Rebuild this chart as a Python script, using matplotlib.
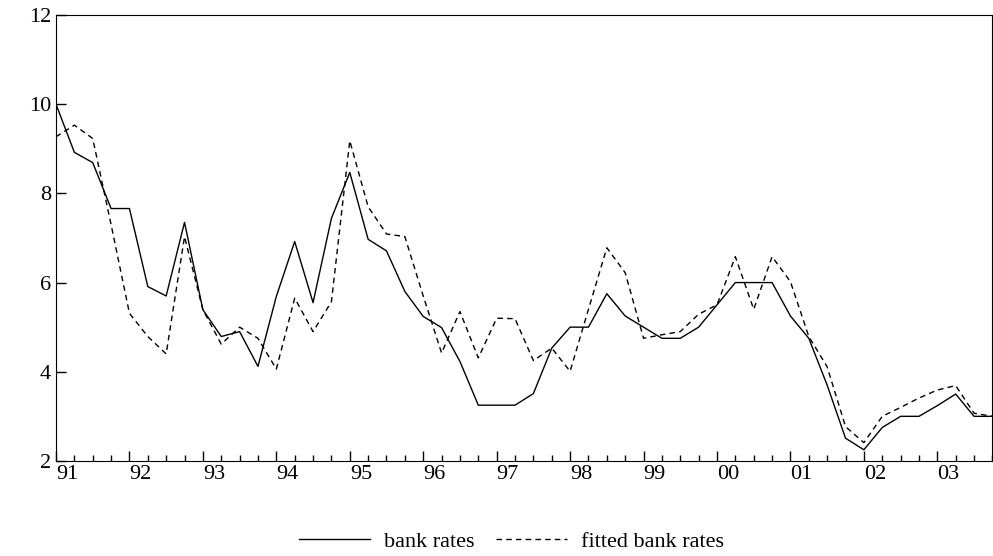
import matplotlib
matplotlib.use("Agg")
import matplotlib.pyplot as plt
import numpy as np

plt.rcParams['font.family'] = ['Liberation Serif', 'DejaVu Serif']

# quarterly, 1991Q1 .. 2003Q4
bank_rates = [10.0, 8.92, 8.69, 7.66, 7.66, 5.91, 5.70, 7.35, 5.39, 4.79, 4.90, 4.12,
              5.69, 6.92, 5.55, 7.44, 8.47, 6.97, 6.71, 5.80, 5.24, 4.99, 4.23, 3.25,
              3.25, 3.25, 3.51, 4.53, 5.0, 5.0, 5.75, 5.25, 5.0, 4.75, 4.75, 5.0,
              5.5, 6.0, 6.0, 6.0, 5.25, 4.75, 3.70, 2.51, 2.25, 2.75, 3.0, 3.0,
              3.24, 3.50, 3.0, 3.0]
fitted = [9.27, 9.53, 9.23, 7.3, 5.31, 4.79, 4.40, 7.03, 5.39, 4.62, 5.0, 4.75,
          4.06, 5.65, 4.90, 5.57, 9.18, 7.70, 7.09, 7.03, 5.7, 4.42, 5.35, 4.31,
          5.2, 5.19, 4.25, 4.53, 4.01, 5.4, 6.78, 6.22, 4.75, 4.83, 4.90, 5.29,
          5.5, 6.58, 5.40, 6.58, 6.02, 4.79, 4.11, 2.77, 2.41, 3.0, 3.20, 3.41,
          3.59, 3.69, 3.07, 3.0]
year_labels = ['91', '92', '93', '94', '95', '96', '97', '98', '99', '00', '01', '02', '03']

fig = plt.figure(figsize=(9.93, 5.56), dpi=100)
ax = fig.add_axes([0.0564, 0.171, 0.943, 0.802])
t = np.arange(len(bank_rates))
ax.plot(t, bank_rates, color='k', linewidth=1.0, label='bank rates')
ax.plot(t, fitted, color='k', linewidth=1.0, linestyle=(0, (4, 3)), label='fitted bank rates')

ax.set_xlim(0, 50.65)
ax.set_ylim(2, 12)
ax.set_xticks(np.arange(len(year_labels)) * 4)
ax.set_xticklabels(year_labels)
ax.set_xticks(t, minor=True)
ax.set_yticks([2, 4, 6, 8, 10, 12])
ax.tick_params(axis='both', which='major', direction='in', length=7, labelsize=16, width=1)
ax.tick_params(axis='x', which='minor', direction='in', length=4, width=1)
ax.tick_params(axis='x', which='major', pad=3)
for lab in ax.get_xticklabels():
    lab.set_horizontalalignment('left')

leg = fig.legend(loc='lower center', bbox_to_anchor=(0.515, -0.028), ncol=2, frameon=False,
                 fontsize=16, handlelength=3.2, columnspacing=1.0, handletextpad=0.6)
fig.savefig('out.png', dpi=100)
